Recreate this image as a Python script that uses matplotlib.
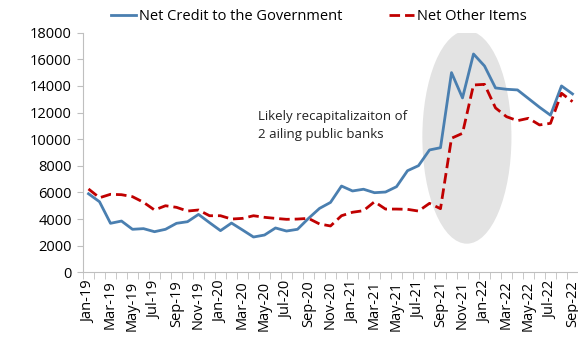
import numpy as np
import matplotlib.pyplot as plt
from matplotlib.patches import Ellipse

plt.rcParams['font.family'] = ['Open Sans', 'DejaVu Sans']

# Monthly observations, Jan-19 .. Sep-22
months = ['Jan', 'Feb', 'Mar', 'Apr', 'May', 'Jun',
          'Jul', 'Aug', 'Sep', 'Oct', 'Nov', 'Dec']
labels = [f'{m}-{y}' for y in ['19', '20', '21', '22'] for m in months][:45]

net_credit_gov = [5900, 5300, 3680, 3850, 3230, 3280, 3050, 3230, 3680, 3800,
                  4350, 3730, 3130, 3700, 3180, 2650, 2800, 3330, 3100, 3230,
                  4050, 4800, 5250, 6480, 6110, 6240, 5980, 6030, 6430, 7630,
                  8010, 9190, 9360, 15000, 13100, 16400, 15500, 13850, 13750,
                  13700, 13050, 12400, 11800, 14000, 13400]

net_other_items = [6260, 5600, 5860, 5830, 5680, 5260, 4680, 5000, 4880, 4600,
                   4680, 4250, 4250, 4000, 4050, 4250, 4130, 4050, 3980, 4000,
                   4050, 3630, 3480, 4250, 4510, 4630, 5300, 4750, 4750, 4730,
                   4600, 5180, 4780, 10070, 10440, 14070, 14120, 12350, 11690,
                   11390, 11570, 11070, 11190, 13450, 12820]

x = np.arange(len(labels))

fig = plt.figure(figsize=(5.78, 3.37), dpi=100)
ax = fig.add_axes([0.1436, 0.192, 0.8564, 0.711])

# shaded region marking the jump in late 2021
ax.add_patch(Ellipse((34.4, 10150), 8.1, 16000, facecolor='#e3e3e3',
                     edgecolor='none', zorder=1))

ax.plot(x, net_credit_gov, color='#4a7fb0', lw=2.0,
        label='Net Credit to the Government', zorder=3)
ax.plot(x, net_other_items, color='#c00000', lw=2.0, ls=(0, (3.8, 1.8)),
        label='Net Other Items', zorder=3)

ax.text(15.4, 11020, 'Likely recapitalizaiton of\n2 ailing public banks',
        fontsize=9.5, color='#222222', va='center', ha='left',
        linespacing=1.45)

ax.set_xlim(-0.5, 44.5)
ax.set_ylim(0, 18000)
ax.set_yticks(np.arange(0, 18001, 2000))
ax.set_xticks(x[::2])
ax.set_xticklabels(labels[::2], rotation=90)
ax.set_xticks(np.arange(-0.5, 45, 1), minor=True)
ax.tick_params(axis='x', which='major', length=0, pad=6, labelsize=10.5)
ax.tick_params(axis='x', which='minor', length=5, color='#bfbfbf')
ax.tick_params(axis='y', length=4, color='#bfbfbf', labelsize=10.5, pad=4)

for side in ['top', 'right']:
    ax.spines[side].set_visible(False)
ax.spines['left'].set_color('#bfbfbf')
ax.spines['bottom'].set_color('#bfbfbf')

fig.legend(loc='center', bbox_to_anchor=(0.552, 0.95), ncol=2, frameon=False,
           fontsize=10.5, handlelength=1.7, handletextpad=0.2,
           columnspacing=3.2)

plt.savefig('out.png', dpi=100)
